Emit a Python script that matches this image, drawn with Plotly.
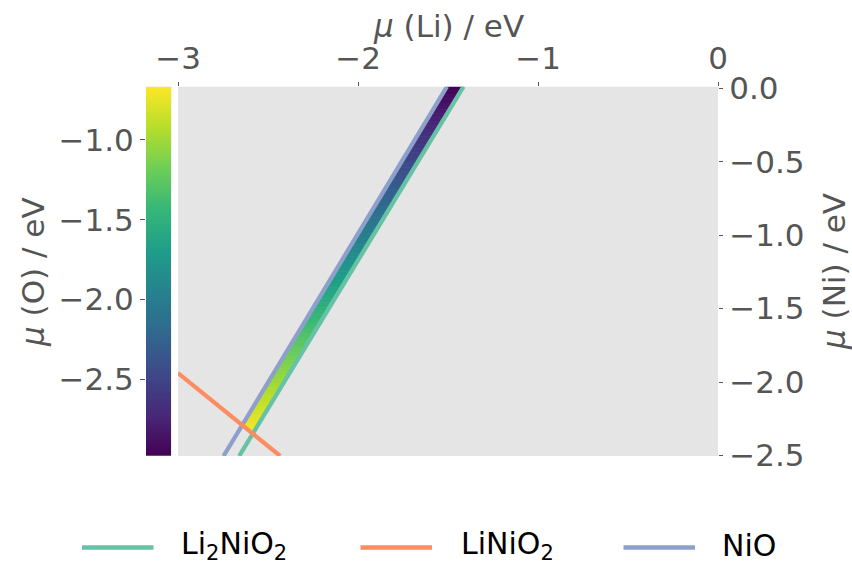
import numpy as np
import plotly.graph_objects as go
from plotly.colors import sample_colorscale

W, H = 852, 564

# ---------------- data ----------------
phase_labels = ["Li<sub>2</sub>NiO<sub>2</sub>", "LiNiO<sub>2</sub>", "NiO"]
phase_colors = ["#66c2a5", "#fc8d62", "#8da0cb"]

mu_li_Li2NiO2 = [-1.414, -2.660]
mu_o_Li2NiO2 = [-0.666, -2.981]
mu_li_LiNiO2 = [-3.000, -2.432]
mu_o_LiNiO2 = [-2.461, -2.981]
mu_li_NiO = [-1.506, -2.747]
mu_o_NiO = [-0.666, -2.981]

x_range = [-3.0, 0.0]
yO_range = [-2.981, -0.666]
yNi_range = [-2.503, 0.01]

x_tickvals = [-3, -2, -1, 0]
x_ticktext = ["−3", "−2", "−1", "0"]
yO_tickvals = [-1.0, -1.5, -2.0, -2.5]
yO_ticktext = ["−1.0", "−1.5", "−2.0", "−2.5"]
yNi_tickvals = [0.0, -0.5, -1.0, -1.5, -2.0, -2.5]
yNi_ticktext = ["0.0", "−0.5", "−1.0", "−1.5", "−2.0", "−2.5"]

# ---------------- helpers ----------------
def line_coeffs(xs, ys):
    m = (ys[1] - ys[0]) / (xs[1] - xs[0])
    return m, ys[0] - m * xs[0]

def x_at(xs, ys, y):
    m, b = line_coeffs(xs, ys)
    return (y - b) / m

def intersect(l1, l2):
    m1, b1 = line_coeffs(*l1)
    m2, b2 = line_coeffs(*l2)
    x = (b2 - b1) / (m1 - m2)
    return x, m1 * x + b1

def clip_above(poly, xs, ys):
    m, b = line_coeffs(xs, ys)
    f = lambda p: p[1] - (m * p[0] + b)
    out = []
    n = len(poly)
    for i in range(n):
        p, q = poly[i], poly[(i + 1) % n]
        fp, fq = f(p), f(q)
        if fp >= 0:
            out.append(p)
        if (fp >= 0) != (fq >= 0):
            t = fp / (fp - fq)
            out.append((p[0] + t * (q[0] - p[0]), p[1] + t * (q[1] - p[1])))
    return out

L_nio = (mu_li_NiO, mu_o_NiO)
L_l2 = (mu_li_Li2NiO2, mu_o_Li2NiO2)
L_l1 = (mu_li_LiNiO2, mu_o_LiNiO2)

fig = go.Figure()

# colorbar (as heatmap on its own small x-axis, sharing the mu(O) axis)
cb_y = np.linspace(yO_range[0], yO_range[1], 256)
fig.add_trace(go.Heatmap(
    x=[0, 1], y=cb_y, z=[[v, v] for v in cb_y],
    colorscale="Viridis", showscale=False, zsmooth="best",
    xaxis="x3", yaxis="y", hoverinfo="skip"))

# stable band with gradient
top = yO_range[1]
A = intersect(L_nio, L_l1)
B = intersect(L_l2, L_l1)
bottom = min(A[1], B[1])
N = 90
levels = np.linspace(top, bottom, N + 1)
for k in range(N):
    y0, y1 = levels[k], levels[k + 1]
    poly = [(x_at(*L_nio, y0), y0), (x_at(*L_l2, y0), y0),
            (x_at(*L_l2, y1), y1), (x_at(*L_nio, y1), y1)]
    poly = clip_above(poly, *L_l1)
    if len(poly) < 3:
        continue
    t = (top - 0.5 * (y0 + y1)) / (top - bottom)
    col = sample_colorscale("Viridis", [min(max(t, 0), 1)])[0]
    xs = [p[0] for p in poly] + [poly[0][0]]
    ys = [p[1] for p in poly] + [poly[0][1]]
    fig.add_trace(go.Scatter(x=xs, y=ys, mode="lines", fill="toself",
                             fillcolor=col, line=dict(color=col, width=0.8),
                             hoverinfo="skip", showlegend=False))

# phase boundary lines
for xs, ys, c in [(mu_li_Li2NiO2, mu_o_Li2NiO2, phase_colors[0]),
                  (mu_li_NiO, mu_o_NiO, phase_colors[2]),
                  (mu_li_LiNiO2, mu_o_LiNiO2, phase_colors[1])]:
    fig.add_trace(go.Scatter(x=xs, y=ys, mode="lines",
                             line=dict(color=c, width=4.3),
                             showlegend=False, hoverinfo="skip"))

# invisible trace for the right axis
fig.add_trace(go.Scatter(x=[x_range[0]], y=[yNi_range[0]], mode="markers",
                         marker=dict(opacity=0), xaxis="x", yaxis="y2",
                         showlegend=False, hoverinfo="skip"))

TICKC = "#555555"
FS = 31
px = lambda v: v / W
py = lambda v: 1 - v / H

x_dom = [px(178), px(718)]
y_dom = [py(456), py(86.7)]

fig.update_layout(
    width=W, height=H,
    margin=dict(l=0, r=0, t=0, b=0, autoexpand=False),
    paper_bgcolor="white", plot_bgcolor="#e5e5e5",
    font=dict(family="DejaVu Sans", size=FS, color=TICKC),
    showlegend=False,
    xaxis=dict(domain=x_dom, range=x_range, side="top", anchor="y",
               tickvals=x_tickvals, ticktext=x_ticktext, automargin=False,
               ticks="outside", ticklen=4, tickwidth=1, tickcolor=TICKC,
               showgrid=False, zeroline=False, showline=False,
               tickfont=dict(size=FS, color=TICKC)),
    xaxis3=dict(domain=[px(146), px(171.5)], range=[-0.5, 1.5], anchor="y",
                showticklabels=False, ticks="", showgrid=False, automargin=False,
                zeroline=False, showline=False),
    yaxis=dict(domain=y_dom, range=yO_range, anchor="x3", side="left",
               tickvals=yO_tickvals, ticktext=yO_ticktext, automargin=False,
               ticks="outside", ticklen=5, tickwidth=1, tickcolor=TICKC,
               showgrid=False, zeroline=False, showline=False,
               tickfont=dict(size=FS, color=TICKC)),
    yaxis2=dict(range=yNi_range, overlaying="y", anchor="x", side="right",
                tickvals=yNi_tickvals, ticktext=yNi_ticktext, automargin=False,
                ticks="outside", ticklen=4, tickwidth=1, tickcolor=TICKC,
                showgrid=False, zeroline=False, showline=False,
                tickfont=dict(size=FS, color=TICKC)),
)

annotations = [
    dict(text="<i>μ</i> (Li) / eV", x=px(448), y=py(26), xref="paper",
         yref="paper", showarrow=False, xanchor="center", yanchor="middle",
         font=dict(size=FS, color=TICKC)),
    dict(text="<i>μ</i> (O) / eV", x=px(33), y=py(272), xref="paper",
         yref="paper", showarrow=False, xanchor="center", yanchor="middle",
         textangle=-90, font=dict(size=FS, color=TICKC)),
    dict(text="<i>μ</i> (Ni) / eV", x=px(834), y=py(272), xref="paper",
         yref="paper", showarrow=False, xanchor="center", yanchor="middle",
         textangle=-90, font=dict(size=FS, color=TICKC)),
]

# manual legend
leg_line_x = [(82, 153.5), (360.5, 432), (623.5, 695)]
leg_text_x = [179, 458.5, 720]
leg_y = 547.5
shapes = []
for (x0, x1), tx, lab, c in zip(leg_line_x, leg_text_x, phase_labels, phase_colors):
    shapes.append(dict(type="line", xref="paper", yref="paper",
                       x0=px(x0), x1=px(x1), y0=py(leg_y), y1=py(leg_y),
                       line=dict(color=c, width=4.5)))
    annotations.append(dict(text=lab, x=px(tx), y=py(leg_y - 2), xref="paper",
                            yref="paper", showarrow=False, xanchor="left",
                            yanchor="middle",
                            font=dict(size=30, color="black")))

fig.update_layout(annotations=annotations, shapes=shapes)

fig.write_html("out.html")
